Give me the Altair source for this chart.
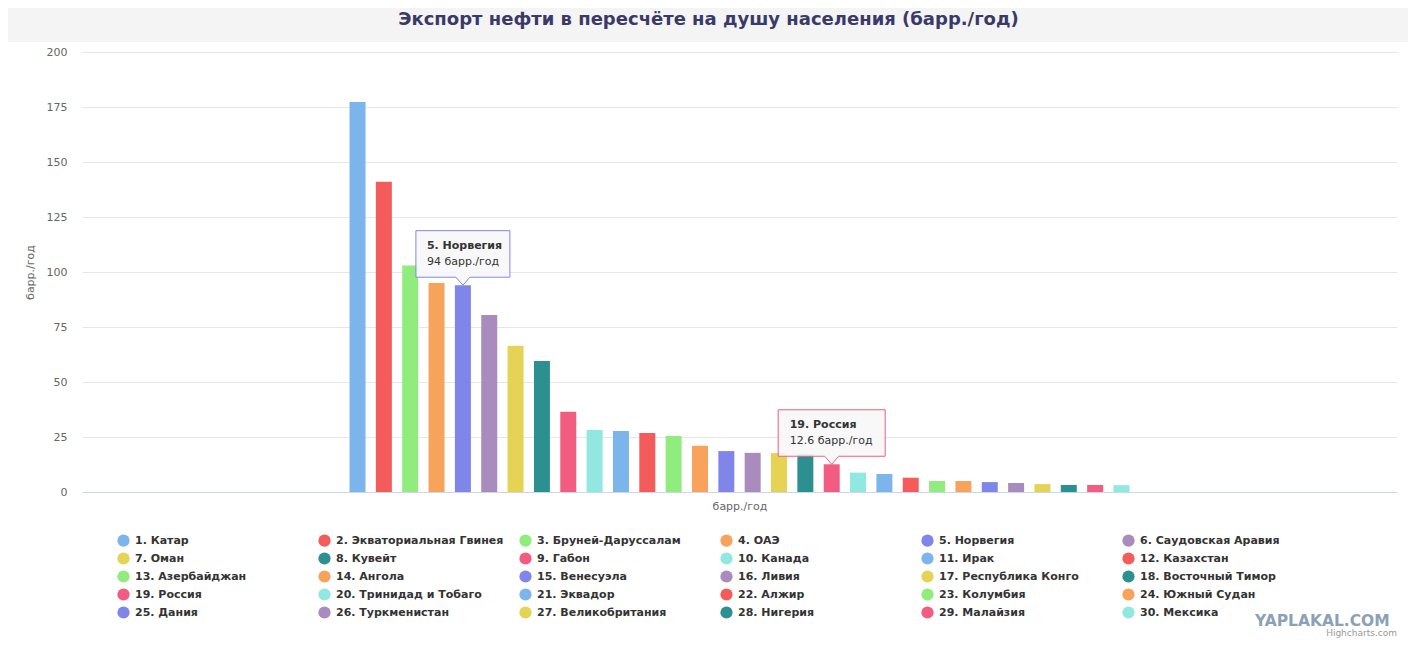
import altair as alt
import pandas as pd

countries = ["Катар", "Экваториальная Гвинея", "Бруней-Даруссалам", "ОАЭ", "Норвегия",
             "Саудовская Аравия", "Оман", "Кувейт", "Габон", "Канада",
             "Ирак", "Казахстан", "Азербайджан", "Ангола", "Венесуэла",
             "Ливия", "Республика Конго", "Восточный Тимор", "Россия", "Тринидад и Тобаго",
             "Эквадор", "Алжир", "Колумбия", "Южный Судан", "Дания",
             "Туркменистан", "Великобритания", "Нигерия", "Малайзия", "Мексика"]
values = [177.3, 141, 103, 95, 94, 80.5, 66.5, 59.5, 36.5, 28.2,
          27.7, 26.8, 25.5, 21.0, 18.6, 17.8, 17.7, 17.3, 12.6, 8.8,
          8.2, 6.5, 5.0, 5.0, 4.5, 4.1, 3.6, 3.2, 3.2, 3.1]
palette = ["#7cb5ec", "#f45b5b", "#90ed7d", "#f7a35c", "#8085e9",
           "#a98bbe", "#e4d354", "#2b908f", "#f15c80", "#91e8e1"]
unit = "барр./год"
title_text = "Экспорт нефти в пересчёте на душу населения (барр./год)"

labels = [f"{i + 1}. {c}" for i, c in enumerate(countries)]
colors = [palette[i % len(palette)] for i in range(len(labels))]
df = pd.DataFrame({"grp": ["" for _ in labels], "label": labels, "value": values})


def tip_df(idx):
    v = values[idx]
    txt = f"{v:g} {unit}"
    return pd.DataFrame({"grp": [""], "label": [labels[idx]], "value": [v],
                         "name": [labels[idx]], "txt": [txt]})


FONT = "DejaVu Sans"

x_enc = alt.X("grp:N",
              scale=alt.Scale(paddingInner=0, paddingOuter=0.343, round=False),
              axis=alt.Axis(title=unit, labels=False, ticks=False, domain=True,
                            domainColor="#ccd6eb", domainWidth=1, grid=False,
                            titleFont=FONT, titleFontSize=11, titleFontWeight="normal",
                            titleColor="#666666", titlePadding=8))
xo_enc = alt.XOffset("label:N", sort=labels,
                     scale=alt.Scale(domain=labels, paddingInner=0.393, paddingOuter=0, round=False))
xo_plain = alt.XOffset("label:N", sort=labels)
x_plain = alt.X("grp:N")
y_enc = alt.Y("value:Q",
              scale=alt.Scale(domain=[0, 200], nice=False),
              axis=alt.Axis(title=unit, values=[0, 25, 50, 75, 100, 125, 150, 175, 200],
                            domain=False, ticks=False, grid=True, gridColor="#e6e6e6",
                            labelFont=FONT, labelFontSize=11, labelColor="#666666",
                            labelPadding=15, titleFont=FONT, titleFontSize=11,
                            titleFontWeight="normal", titleColor="#666666", titlePadding=11))

band = alt.Chart(pd.DataFrame({"k": [0]})).mark_rect(color="#f4f4f4").encode(
    x=alt.value(-74), x2=alt.value(1326), y=alt.value(-44), y2=alt.value(-10))

bars = alt.Chart(df).mark_bar().encode(
    x=x_enc, xOffset=xo_enc, y=y_enc,
    color=alt.Color("label:N", sort=labels,
                    scale=alt.Scale(domain=labels, range=colors),
                    legend=alt.Legend(title=None, orient="none", legendX=35, legendY=482,
                                      direction="horizontal",
                                      columns=6, symbolType="circle", symbolSize=150,
                                      symbolStrokeWidth=0, symbolOpacity=1,
                                      labelFont=FONT, labelFontSize=11, labelFontWeight="bold",
                                      labelColor="#333333", labelOffset=5, columnPadding=15,
                                      rowPadding=5, gridAlign="all", labelLimit=400, padding=0)))


def tooltip_layers(idx, half, stroke, dx_text):
    base_y = 8 / half
    top_y = 54.5 / half
    hw = 7 / half
    path = (f"M0,0 L{-hw:.3f},{-base_y:.3f} L-1,{-base_y:.3f} L-1,{-top_y:.3f} "
            f"L1,{-top_y:.3f} L1,{-base_y:.3f} L{hw:.3f},{-base_y:.3f} Z")
    d = tip_df(idx)
    box = alt.Chart(d).mark_point(shape=path, size=(2 * half) ** 2, filled=True,
                                  fill="#f7f7f7", fillOpacity=0.9, stroke=stroke,
                                  strokeWidth=1, opacity=1, xOffset=2).encode(
        x=x_plain, xOffset=xo_plain, y="value:Q")
    t1 = alt.Chart(d).mark_text(align="left", baseline="alphabetic", dx=dx_text, dy=-36,
                                font=FONT, fontSize=11, fontWeight="bold", color="#333333").encode(
        x=x_plain, xOffset=xo_plain, y="value:Q", text="name:N")
    t2 = alt.Chart(d).mark_text(align="left", baseline="alphabetic", dx=dx_text, dy=-20,
                                font=FONT, fontSize=11, color="#333333").encode(
        x=x_plain, xOffset=xo_plain, y="value:Q", text="txt:N")
    return [box, t1, t2]


tips = tooltip_layers(4, 47, "#8085e9", -36) + tooltip_layers(18, 53.5, "#f15c80", -42)

marks_df = pd.DataFrame({"t": ["YAPLAKAL.COM"], "c": ["Highcharts.com"]})
wm = alt.Chart(marks_df).mark_text(align="left", baseline="alphabetic", font=FONT,
                                   fontSize=15.5, fontWeight="bold", color="#8ca1b5").encode(
    x=alt.value(1173), y=alt.value(574), text="t:N")
credit = alt.Chart(marks_df).mark_text(align="right", baseline="alphabetic", font=FONT,
                                       fontSize=9, color="#999999").encode(
    x=alt.value(1315), y=alt.value(584), text="c:N")

chart = alt.layer(band, bars, *tips, wm, credit).properties(
    width=1315, height=440,
    title=alt.TitleParams(title_text, font=FONT, fontSize=18, fontWeight="bold",
                          color="#3a3a68", anchor="middle", frame="group", dx=-31, offset=-21),
    autosize=alt.AutoSizeParams(type="none"),
    padding={"left": 74, "top": 44, "right": 11, "bottom": 150},
    background="white",
).configure_view(stroke=None)

chart.save("out.html", embed_options={"renderer": "svg", "actions": False})
